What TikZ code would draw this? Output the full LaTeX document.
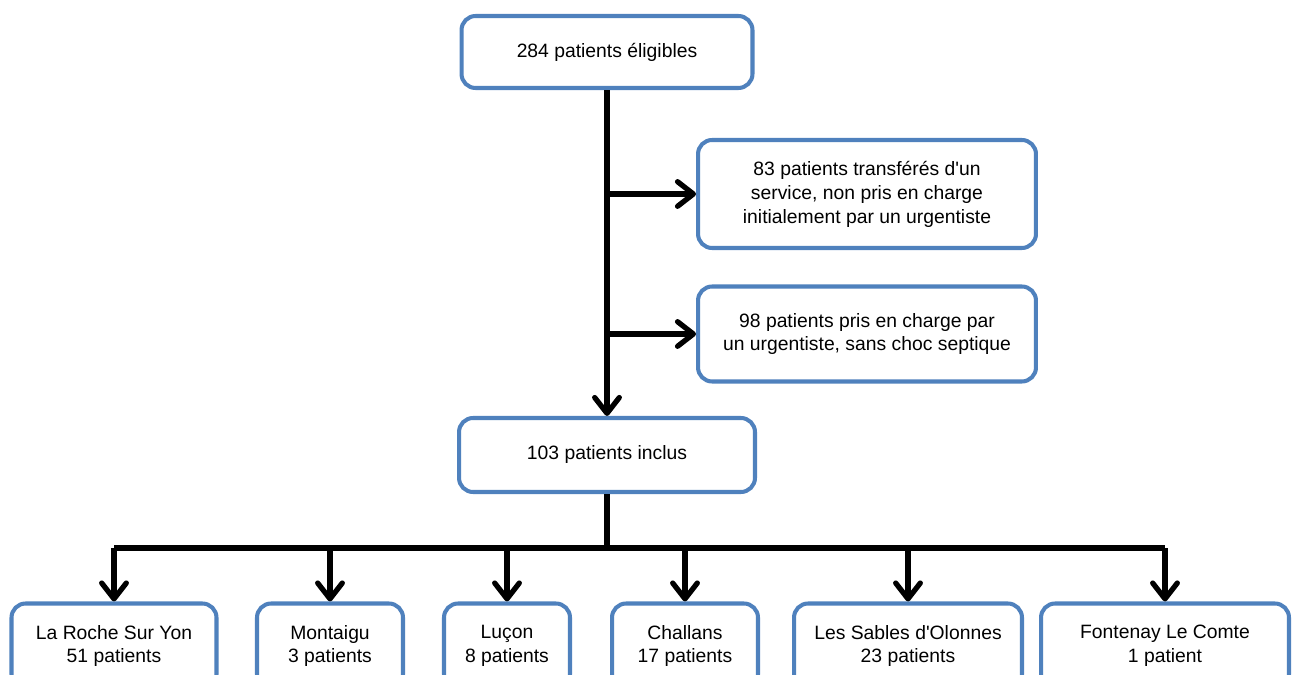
\documentclass[tikz,border=0pt]{standalone}
\usepackage{fontspec}
\setmainfont{Liberation Sans}
\usetikzlibrary{arrows.meta}
\definecolor{boxblue}{RGB}{79,129,189}

\begin{document}
\begin{tikzpicture}[x=0.02cm, y=-0.02cm,
    box/.style={draw=boxblue, line width=2.3pt, rounded corners=8pt, fill=white,
                align=center, inner sep=2pt,
                font=\fontsize{11}{13.6}\selectfont},
    link/.style={line width=3pt},
    arr/.style={link, -{Straight Barb[length=9pt, width=14pt, round]}}]
    \useasboundingbox (0,0) rectangle (1305,675);

    % haut
    \node[box, minimum width=5.82cm, minimum height=1.44cm] (elig) at (607,52) {284 patients éligibles};
    \node[box, minimum width=6.76cm, minimum height=2.16cm] (transf) at (867,194)
        {83 patients transférés d\textquotesingle un\\ service, non pris en charge\\ initialement par un urgentiste};
    \node[box, minimum width=6.76cm, minimum height=1.90cm] (nonchoc) at (867,334)
        {98 patients pris en charge par\\ un urgentiste, sans choc septique};
    \node[box, minimum width=5.92cm, minimum height=1.48cm] (inclus) at (607,455) {103 patients inclus};

    % centres
    \node[box, minimum width=4.10cm, minimum height=1.70cm] (larochesy) at (114,646) {La Roche Sur Yon\\ 51 patients};
    \node[box, minimum width=2.92cm, minimum height=1.70cm] (montaigu) at (330,646) {Montaigu\\ 3 patients};
    \node[box, minimum width=2.52cm, minimum height=1.70cm] (lucon) at (507,646) {Luçon\\ 8 patients};
    \node[box, minimum width=2.92cm, minimum height=1.70cm] (challans) at (685,646) {Challans\\ 17 patients};
    \node[box, minimum width=4.56cm, minimum height=1.70cm] (sables) at (908,646) {Les Sables d\textquotesingle Olonnes\\ 23 patients};
    \node[box, minimum width=4.96cm, minimum height=1.70cm] (fontenay) at (1165,646) {Fontenay Le Comte\\ 1 patient};

    \coordinate (split) at (607,548);

    \draw[arr] (elig.south) -- (inclus.north);
    \draw[arr] (elig.south |- transf.west) -- (transf.west);
    \draw[arr] (elig.south |- nonchoc.west) -- (nonchoc.west);

    \draw[link] (inclus.south) -- (split);
    \draw[link] (larochesy.north |- split) -- (fontenay.north |- split);
    \foreach \c in {larochesy, montaigu, lucon, challans, sables, fontenay}
        \draw[arr] (\c.north |- split) -- (\c.north);
\end{tikzpicture}
\end{document}
